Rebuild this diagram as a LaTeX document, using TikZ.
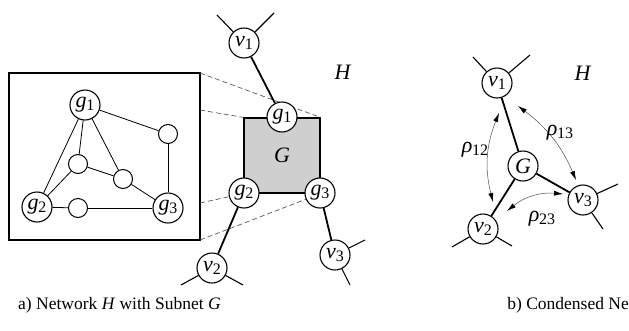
\documentclass[tikz,border=0pt]{standalone}
\usepackage{fontspec}
\setmainfont{Liberation Serif}
\usetikzlibrary{arrows.meta}

% italic letter with an upright, lowered subscript
\newcommand\ix[2]{\textit{#1}\kern-0.2pt\raisebox{-2.8pt}{\fontsize{16}{16}\selectfont #2}}

\tikzset{
  bignode/.style={circle, draw, line width=1.1pt, fill=white, minimum size=30pt,
    inner sep=0pt, font=\fontsize{22}{22}\selectfont},
  smallnode/.style={circle, draw, line width=1pt, fill=white, minimum size=19pt, inner sep=0pt},
  heavy/.style={line width=1.8pt},
  light/.style={line width=0.8pt},
  stub/.style={line width=1.1pt},
  guide/.style={dashed, line width=0.7pt, gray!70!black, dash pattern=on 5pt off 3pt},
  rho/.style={line width=0.5pt, gray!60!black, {Latex[length=9pt,width=5pt,black]}-{Latex[length=9pt,width=5pt,black]}},
  txt/.style={font=\fontsize{22}{22}\selectfont, inner sep=0pt},
  caption/.style={font=\fontsize{17.5}{17.5}\selectfont, inner sep=0pt}
}

\begin{document}
\begin{tikzpicture}[x=1pt, y=-1pt]
\useasboundingbox (0,0) rectangle (629,330);

% ---------- a) the enlarged subnet ----------
\node (box) [draw, line width=1.3pt, minimum width=191pt, minimum height=167pt, inner sep=0pt] at (104.5,156.5) {};
\coordinate (bA) at (200,73);
\coordinate (bB) at (200,110);
\coordinate (bC) at (200,203);
\coordinate (bD) at (200,240);

% the subnet inside the network
\node (Gsq) [draw, line width=1.2pt, fill=gray!38, minimum width=76pt, minimum height=75pt, inner sep=0pt,
  font=\fontsize{22}{22}\selectfont] at (282,155.5) {\textit{G}};
\draw[guide] (bA) -- (Gsq.north east);
\draw[guide] (bB) -- (Gsq.north west);
\draw[guide] (bC) -- (Gsq.south west);
\draw[guide] (bD) -- (Gsq.south east);

% inner graph
\node (ig1) [bignode] at (85,105) {\ix{g}{1}};
\node (ig2) [bignode] at (37,207) {\ix{g}{2}};
\node (ig3) [bignode] at (168,208) {\ix{g}{3}};
\node (ntr) [smallnode] at (168,134) {};
\node (nml) [smallnode] at (78,164) {};
\node (nmm) [smallnode] at (123,179) {};
\node (nbm) [smallnode] at (78,208) {};
\draw[light] (ig1) -- (ig2);
\draw[light] (ig1) -- (nml);
\draw[light] (ig1) -- (nmm);
\draw[light] (ig1) -- (ntr);
\draw[light] (ntr) -- (ig3);
\draw[light] (nml) -- (nmm);
\draw[light] (nmm) -- (ig3);
\draw[light] (nml) -- (ig2);
\draw[light] (ig2) -- (nbm);
\draw[light] (nbm) -- (ig3);

% network H around the subnet
\node (g1) [bignode] at (282,117) {\ix{g}{1}};
\node (g2) [bignode] at (244,193) {\ix{g}{2}};
\node (g3) [bignode] at (320,193) {\ix{g}{3}};
\node (v1) [bignode] at (244,43) {\ix{v}{1}};
\node (v2) [bignode] at (212,268) {\ix{v}{2}};
\node (v3) [bignode] at (335,255) {\ix{v}{3}};
\node (Ha) [txt] at (343,72) {\textit{H}};

\draw[heavy] (v1) -- (g1);
\draw[heavy] (g2) -- (v2);
\draw[heavy] (g3) -- (v3);

\coordinate (s1a) at (217,15);
\coordinate (s1b) at (274,13);
\coordinate (s2a) at (181,285);
\coordinate (s2b) at (243,285);
\coordinate (s3a) at (365,240);
\coordinate (s3b) at (350,285);
\draw[stub] (v1) -- (s1a);
\draw[stub] (v1) -- (s1b);
\draw[stub] (v2) -- (s2a);
\draw[stub] (v2) -- (s2b);
\draw[stub] (v3) -- (s3a);
\draw[stub] (v3) -- (s3b);

% ---------- b) condensed network ----------
\node (cv1) [bignode] at (497,83) {\ix{v}{1}};
\node (cG)  [bignode] at (523,166) {\textit{G}};
\node (cv2) [bignode] at (483,229) {\ix{v}{2}};
\node (cv3) [bignode] at (583,200) {\ix{v}{3}};
\node (Hb) [txt] at (583,73) {\textit{H}};

\draw[heavy] (cv1) -- (cG);
\draw[heavy] (cG) -- (cv2);
\draw[heavy] (cG) -- (cv3);

\coordinate (t1a) at (473,57);
\coordinate (t1b) at (530,55);
\coordinate (t2a) at (452,247);
\coordinate (t2b) at (512,246);
\coordinate (t3a) at (618,184);
\coordinate (t3b) at (603,229);
\draw[stub] (cv1) -- (t1a);
\draw[stub] (cv1) -- (t1b);
\draw[stub] (cv2) -- (t2a);
\draw[stub] (cv2) -- (t2b);
\draw[stub] (cv3) -- (t3a);
\draw[stub] (cv3) -- (t3b);

% flows between the border nodes
\coordinate (r12a) at (499,113);
\coordinate (r12b) at (493,202);
\coordinate (r13a) at (518,106);
\coordinate (r13b) at (576,180);
\coordinate (r23a) at (563,194);
\coordinate (r23b) at (507,211);
\draw[rho] (r12a) to[bend right=18] (r12b);
\draw[rho] (r13a) to[bend left=15] (r13b);
\draw[rho] (r23a) to[bend right=22] (r23b);
\node (l12) [txt] at (475,150) {\ix{ρ}{12}};
\node (l13) [txt] at (560,133) {\ix{ρ}{13}};
\node (l23) [txt] at (542,219) {\ix{ρ}{23}};

% ---------- captions ----------
\node (capa) [caption, anchor=base west] at (18,309) {a) Network \textit{H} with Subnet \textit{G}};
\node (capb) [caption, anchor=base east] at (629,309) {b) Condensed Ne};
\end{tikzpicture}
\end{document}
